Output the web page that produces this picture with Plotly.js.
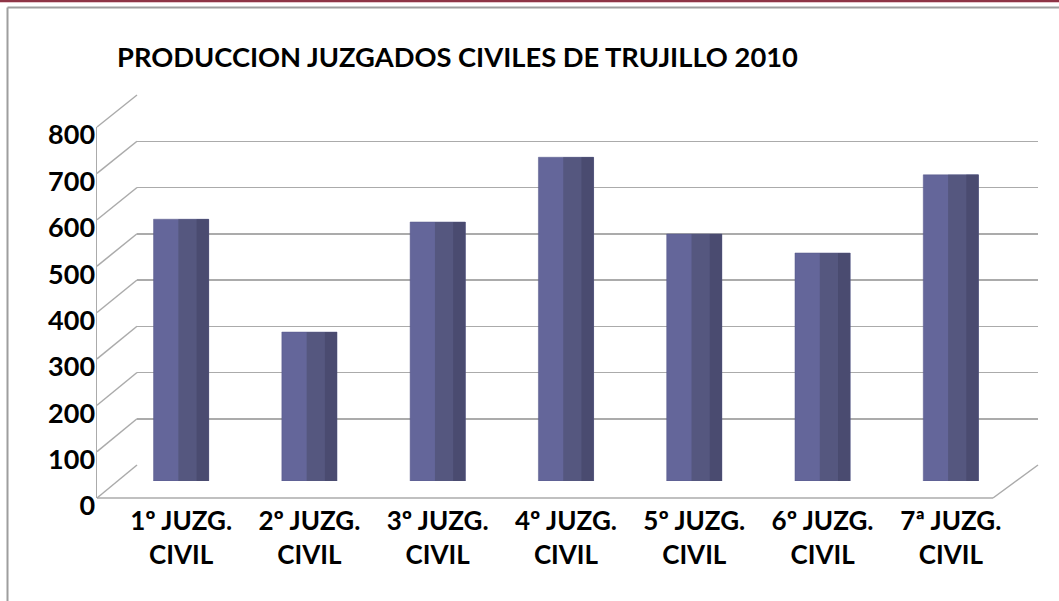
<!DOCTYPE html>
<html>
<head>
<meta charset="utf-8">
<script src="https://cdn.plot.ly/plotly-3.0.1.min.js"></script>
<style>html,body{margin:0;padding:0;background:#fff;}#chart{width:1059px;height:601px;}</style>
</head>
<body>
<div id="chart"></div>
<script>
// ---- data ----
const categories = ["1º JUZG.<br>CIVIL", "2º JUZG.<br>CIVIL", "3º JUZG.<br>CIVIL", "4º JUZG.<br>CIVIL", "5º JUZG.<br>CIVIL", "6º JUZG.<br>CIVIL", "7ª JUZG.<br>CIVIL"];
const produccion = [566, 322, 560, 700, 534, 493, 662];
const yTickValues = [0, 100, 200, 300, 400, 500, 600, 700, 800];
const chartTitle = "PRODUCCION JUZGADOS CIVILES DE TRUJILLO 2010";

// ---- geometry (pixels) ----
const W = 1059, H = 601;
const px = v => v / W;
const py = v => 1 - v / H;
const front = {x0: 97, x1: 993, yTop: 127, yBot: 498};
const back  = {x0: 137, x1: 1038, yTop: 95, yBot: 465};
const mid   = {x0: 117, x1: 1015, yTop: 111, yBot: 481};
const yMax = 800;
const gridCol = "#ababab";
const font = "Lato, 'Open Sans', 'Liberation Sans', sans-serif";

const barW = 0.43;
const traces = [
  // empty traces so the back-wall and front-axis subplots get drawn
  {type: "scatter", x: [], y: [], xaxis: "x", yaxis: "y", hoverinfo: "skip", showlegend: false},
  {type: "scatter", x: [], y: [], xaxis: "x2", yaxis: "y2", hoverinfo: "skip", showlegend: false},
  {
    type: "bar", x: categories, y: produccion, xaxis: "x3", yaxis: "y3",
    width: barW, offset: -barW / 2,
    marker: {color: "#64669a", line: {color: "#57598a", width: 0.5}},
    hoverinfo: "skip", showlegend: false
  },
  {
    type: "bar", x: categories, y: produccion, xaxis: "x3", yaxis: "y3",
    width: barW * 0.55, offset: -barW / 2 + barW * 0.45,
    marker: {color: "#55577f", line: {width: 0}},
    hoverinfo: "skip", showlegend: false
  },
  {
    type: "bar", x: categories, y: produccion, xaxis: "x3", yaxis: "y3",
    width: barW * 0.22, offset: barW / 2 - barW * 0.22,
    marker: {color: "#4a4b70", line: {width: 0}},
    hoverinfo: "skip", showlegend: false
  }
];

// ---- decorative shapes (3D wall / floor edges, frame) ----
const shapes = [];
const lineStyle = {color: gridCol, width: 1.5};
yTickValues.forEach(v => {
  const yf = front.yBot - (front.yBot - front.yTop) * v / yMax;
  const yb = back.yBot - (back.yBot - back.yTop) * v / yMax;
  shapes.push({type: "line", xref: "paper", yref: "paper", layer: "below",
    x0: px(front.x0), y0: py(yf), x1: px(back.x0), y1: py(yb), line: lineStyle});
});
shapes.push({type: "line", xref: "paper", yref: "paper", layer: "below",
  x0: px(front.x0), y0: py(front.yBot), x1: px(front.x1), y1: py(front.yBot), line: lineStyle});
shapes.push({type: "line", xref: "paper", yref: "paper", layer: "below",
  x0: px(front.x1), y0: py(front.yBot), x1: px(back.x1), y1: py(back.yBot), line: lineStyle});
// outer frame
shapes.push({type: "line", xref: "paper", yref: "paper", x0: 0, y0: py(1), x1: 1, y1: py(1), line: {color: "#8e3446", width: 2}});
shapes.push({type: "line", xref: "paper", yref: "paper", x0: 0, y0: py(2.5), x1: 1, y1: py(2.5), line: {color: "#e6c7cd", width: 1}});
shapes.push({type: "line", xref: "paper", yref: "paper", x0: px(7.5), y0: py(7.5), x1: 1, y1: py(7.5), line: {color: "#9e9e9e", width: 2}});
shapes.push({type: "line", xref: "paper", yref: "paper", x0: px(7.5), y0: py(7.5), x1: px(7.5), y1: 0, line: {color: "#9e9e9e", width: 2}});

const layout = {
  width: W, height: H,
  margin: {l: 0, r: 0, t: 0, b: 0},
  paper_bgcolor: "#ffffff", plot_bgcolor: "rgba(0,0,0,0)",
  barmode: "overlay",
  showlegend: false,
  title: {
    text: chartTitle, x: px(117), xanchor: "left", y: py(57), yanchor: "middle",
    font: {family: font, size: 27.3, weight: "bold", color: "#000000"}
  },
  // back wall (gridlines)
  xaxis: {domain: [px(back.x0), px(back.x1)], range: [0, 1], visible: false, fixedrange: true},
  yaxis: {domain: [py(back.yBot), py(back.yTop)], range: [0, yMax], anchor: "x",
    tickvals: yTickValues, showticklabels: false, ticks: "",
    showgrid: true, gridcolor: gridCol, gridwidth: 1.5, zeroline: false, showline: false, fixedrange: true},
  // front axis (tick labels)
  xaxis2: {domain: [px(front.x0), px(front.x1)], range: [0, 1], visible: false, anchor: "y2", fixedrange: true},
  yaxis2: {domain: [py(front.yBot), py(front.yTop)], range: [0, yMax], anchor: "x2",
    tickvals: yTickValues, ticktext: yTickValues.map(String), ticks: "",
    showgrid: false, zeroline: false, showline: true, linecolor: gridCol, linewidth: 1.5,
    ticklabelshift: 8, ticklabelstandoff: -5,
    tickfont: {family: font, size: 27, weight: "bold", color: "#000000"}, fixedrange: true},
  // bars (mid depth)
  xaxis3: {domain: [px(mid.x0), px(mid.x1)], type: "category", range: [-0.5, 6.5], anchor: "y3",
    showgrid: false, zeroline: false, showline: false, ticks: "",
    ticklabelstandoff: 22,
    tickfont: {family: font, size: 26, weight: "bold", color: "#000000"}, fixedrange: true},
  yaxis3: {domain: [py(mid.yBot), py(mid.yTop)], range: [0, yMax], anchor: "x3",
    visible: false, showgrid: false, zeroline: false, fixedrange: true},
  shapes: shapes
};

Plotly.newPlot("chart", traces, layout, {displayModeBar: false, staticPlot: true});
</script>
</body>
</html>
